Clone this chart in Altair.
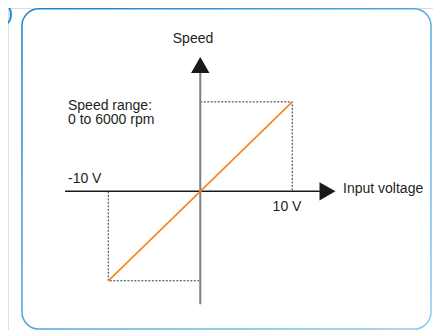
import altair as alt
import pandas as pd

# ---- data (voltage in V, speed in rpm) ----
transfer_v = [-10, 10]
transfer_speed = [-6000, 6000]

# dotted guide boxes
guide_group = ["pos", "pos", "pos", "neg", "neg", "neg"]
guide_v = [0, 10, 10, -10, -10, 0]
guide_speed = [6000, 6000, 0, 0, -6000, -6000]

# axis extents
h_axis_v = [-14.7, 13.0]
v_axis_speed = [-7575, 7978]
arrow_names = ["up", "right"]
arrow_v = [0, 13.83]
arrow_speed = [8476, 0]
arrow_shape = ["triangle-up", "triangle-right"]

# labels (anchored at text baseline)
label_text = ["Speed", "Speed range:", "0 to 6000 rpm", "-10 V", "10 V", "Input voltage"]
label_v = [-0.79, -14.38, -14.38, -14.38, 9.43, 15.52]
label_speed = [9952, 5458, 4519, 561, -1284, -110]
label_align = ["center", "left", "left", "left", "center", "left"]

# frame
frame_v = [-19.38, 25.08]
frame_speed = [12250, -9240]

FONT = "Liberation Sans"
TXT = "#231f20"

xs = alt.Scale(domain=[-20.9, 25.3], nice=False, zero=False)
ys = alt.Scale(domain=[-9300, 12300], nice=False, zero=False)

frame_df = pd.DataFrame({"x": [frame_v[0]], "x2": [frame_v[1]],
                         "y": [frame_speed[0]], "y2": [frame_speed[1]]})
frame = alt.Chart(frame_df).mark_rect(
    cornerRadius=17, fill="white", strokeWidth=1.5,
    stroke=alt.LinearGradient(gradient="linear", x1=0, y1=0, x2=1, y2=1,
                              stops=[alt.GradientStop(color="#1683cf", offset=0),
                                     alt.GradientStop(color="#8ecbee", offset=1)])
).encode(x=alt.X("x:Q", scale=xs, axis=None), x2="x2",
         y=alt.Y("y:Q", scale=ys, axis=None), y2="y2")

num_df = pd.DataFrame({"t": ["6)"], "v": [-20.36], "s": [11495]})
num = alt.Chart(num_df).mark_text(align="right", baseline="alphabetic", fontSize=21,
                                  font=FONT, color="#1683cf").encode(
    x=alt.X("v:Q", scale=xs, axis=None), y=alt.Y("s:Q", scale=ys, axis=None), text="t")

guide_df = pd.DataFrame({"g": guide_group, "o": list(range(len(guide_v))),
                         "v": guide_v, "s": guide_speed})
guides = alt.Chart(guide_df).mark_line(color="#333333", strokeWidth=1,
                                       strokeDash=[2, 1.5]).encode(
    x=alt.X("v:Q", scale=xs, axis=None), y=alt.Y("s:Q", scale=ys, axis=None),
    detail="g:N", order="o:Q")

hax_df = pd.DataFrame({"v": [h_axis_v[0]], "v2": [h_axis_v[1]], "s": [0]})
hax = alt.Chart(hax_df).mark_rule(color="#1a1a1a", strokeWidth=1.5).encode(
    x=alt.X("v:Q", scale=xs, axis=None), x2="v2", y=alt.Y("s:Q", scale=ys, axis=None))

vax_df = pd.DataFrame({"v": [0], "s": [v_axis_speed[0]], "s2": [v_axis_speed[1]]})
vax = alt.Chart(vax_df).mark_rule(color="#808080", strokeWidth=2).encode(
    x=alt.X("v:Q", scale=xs, axis=None), y=alt.Y("s:Q", scale=ys, axis=None), y2="s2")

tr_df = pd.DataFrame({"v": transfer_v, "s": transfer_speed})
transfer = alt.Chart(tr_df).mark_line(color="#f5841f", strokeWidth=1.6).encode(
    x=alt.X("v:Q", scale=xs, axis=None), y=alt.Y("s:Q", scale=ys, axis=None))

arr_df = pd.DataFrame({"n": arrow_names, "v": arrow_v, "s": arrow_speed, "sh": arrow_shape})
arrows = alt.Chart(arr_df).mark_point(filled=True, color="#1a1a1a", opacity=1,
                                      size=340, strokeWidth=0).encode(
    x=alt.X("v:Q", scale=xs, axis=None), y=alt.Y("s:Q", scale=ys, axis=None),
    shape=alt.Shape("sh:N", scale=None))

lab_df = pd.DataFrame({"t": label_text, "v": label_v, "s": label_speed, "a": label_align})
labels = []
for al in ["left", "center"]:
    labels.append(alt.Chart(lab_df[lab_df.a == al]).mark_text(
        align=al, baseline="alphabetic", fontSize=14, font=FONT, color=TXT).encode(
        x=alt.X("v:Q", scale=xs, axis=None), y=alt.Y("s:Q", scale=ys, axis=None), text="t"))

chart = alt.layer(frame, num, guides, hax, vax, transfer, arrows, *labels).properties(
    width=425, height=322, padding=0, autosize=alt.AutoSizeParams(type="none")
).configure_view(stroke=None).configure(background="white")

chart.save("out.html", embed_options={"renderer": "svg", "actions": False})
